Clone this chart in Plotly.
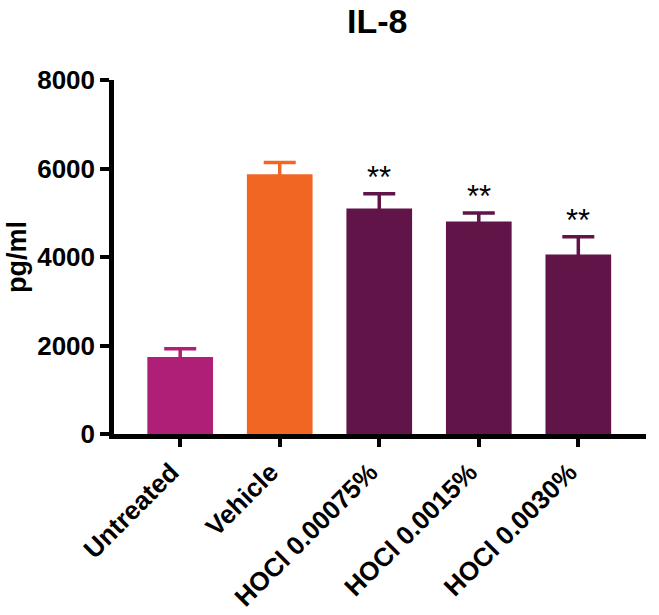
import plotly.graph_objects as go

categories = ["Untreated", "Vehicle", "HOCl 0.00075%", "HOCl 0.0015%", "HOCl 0.0030%"]
values = [1740, 5870, 5095, 4800, 4055]
errors = [185, 265, 335, 195, 400]
colors = ["#AF1F78", "#F26624", "#611447", "#611447", "#611447"]
stars = ["", "", "**", "**", "**"]
y_ticks = [0, 2000, 4000, 6000, 8000]

FONT = "Arial, Liberation Sans, Helvetica, sans-serif"

fig = go.Figure()
for i, c in enumerate(categories):
    fig.add_trace(go.Bar(
        x=[i], y=[values[i]], width=0.66,
        marker=dict(color=colors[i], line=dict(width=0)),
        error_y=dict(type="data", symmetric=True, array=[errors[i]],
                     color=colors[i], thickness=3.5, width=16),
        showlegend=False,
    ))
    if stars[i]:
        fig.add_annotation(x=i, y=values[i] + errors[i], text=stars[i], showarrow=False,
                           yanchor="middle", yshift=16,
                           font=dict(family=FONT, size=31, color="black"))

fig.update_layout(
    width=659, height=615,
    margin=dict(l=114, r=13, t=80, b=181),
    plot_bgcolor="white", paper_bgcolor="white",
    barmode="overlay",
    title=dict(text="IL-8", x=0.5725, xanchor="center", y=1 - 21 / 615, yanchor="middle",
               font=dict(family=FONT, size=34, color="black", weight="bold")),
    xaxis=dict(
        range=[-0.665, 4.68], tickmode="array", tickvals=list(range(len(categories))),
        ticktext=categories, tickangle=-45, automargin=False, ticklabelshift=-9,
        showline=True, linecolor="black", linewidth=4.5,
        ticks="outside", ticklen=8, tickwidth=4, tickcolor="black",
        showgrid=False, zeroline=False,
        tickfont=dict(family=FONT, size=26, color="black", weight="bold"),
    ),
    yaxis=dict(
        range=[0, 8000], tickmode="array", tickvals=y_ticks,
        ticktext=[str(v) for v in y_ticks], automargin=False,
        showline=True, linecolor="black", linewidth=4.5,
        ticks="outside", ticklen=9, tickwidth=4, tickcolor="black",
        showgrid=False, zeroline=False,
        tickfont=dict(family=FONT, size=26, color="black", weight="bold"),
        title=dict(text="pg/ml", standoff=4,
                   font=dict(family=FONT, size=27, color="black", weight="bold")),
    ),
)

fig.write_html("out.html", config={"displayModeBar": False},
               post_script="document.body.style.margin='0';")
